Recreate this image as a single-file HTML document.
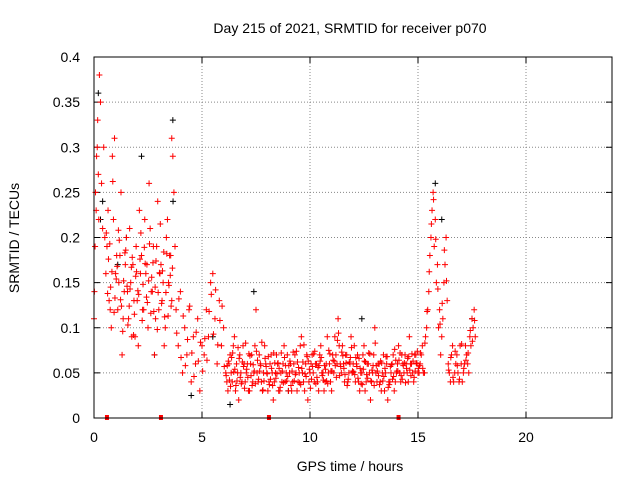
<!DOCTYPE html>
<html><head><meta charset="utf-8"><style>
body{margin:0;background:#fff;}
svg text{font-family:"Liberation Sans",sans-serif;font-size:14px;fill:#000;}
</style></head><body>
<svg id="chart" width="640" height="480">
<text x="350" y="33" text-anchor="middle">Day 215 of 2021, SRMTID for receiver p070</text>
<text x="350" y="471" text-anchor="middle">GPS time / hours</text>
<text transform="translate(19,238) rotate(-90)" text-anchor="middle">SRMTID / TECUs</text>
<g id="grid"></g><g id="ticks"></g><g id="black"></g><g id="red"></g>
<rect x="94" y="57" width="518" height="361" fill="none" stroke="#000" stroke-width="1"/>
</svg>
<script>
const xTicks=[0,5,10,15,20];
const yTicks=[0,0.05,0.1,0.15,0.2,0.25,0.3,0.35,0.4];
const yTickLabels=["0","0.05","0.1","0.15","0.2","0.25","0.3","0.35","0.4"];
const segStart=[0.0,0.02,0.55,0.6,3.6,3.8,5.1,6.1,6.15,15.1,15.15,16.4,16.45, 0.57,0.63,3.83,5.13,6.12,6.17,15.12,16.42];
const segStep=[0.05,0.05,0.1,0.1,0.05,0.1,0.1,0.1,0.1,0.1,0.1,0.1,0.1, 0.1,0.1,0.1,0.1,0.1,0.1,0.1,0.1];
const segVals=[
[0.11,0.19,0.23,0.30,0.27,0.38,0.35,0.26,0.21,0.30,0.20],
[0.14,0.25,0.29,0.33,0.22],
[0.16,0.23,0.12,0.29,0.31,0.18,0.15,0.25,0.11,0.17,0.14,0.21,0.09,0.13,0.19,0.08,0.16,0.12,0.22,0.17,0.26,0.14,0.19,0.11,0.24,0.16,0.13,0.08,0.20,0.15,0.18],
[0.19,0.13,0.10,0.22,0.16,0.12,0.18,0.07,0.14,0.20,0.11,0.15,0.17,0.09,0.13,0.23,0.18,0.12,0.16,0.10,0.21,0.14,0.07,0.19,0.12,0.17,0.15,0.10,0.22,0.18,0.13],
[0.31,0.29,0.25,0.19],
[0.12,0.08,0.14,0.05,0.10,0.07,0.12,0.04,0.09,0.06,0.11,0.03,0.08],
[0.07,0.12,0.09,0.15,0.16,0.11,0.06,0.13,0.08,0.10],
[0.05,0.03,0.07,0.04,0.09,0.06,0.02,0.05,0.08,0.04,0.06,0.03,0.07,0.05,0.12,0.04,0.06,0.03,0.08,0.05,0.04,0.07,0.02,0.05,0.06,0.03,0.04,0.08,0.05,0.03,0.06,0.04,0.07,0.03,0.05,0.09,0.04,0.06,0.02,0.05,0.07,0.04,0.06,0.03,0.08,0.05,0.04,0.09,0.06,0.03,0.05,0.07,0.11,0.06,0.08,0.04,0.07,0.05,0.09,0.06,0.04,0.07,0.03,0.05,0.08,0.04,0.06,0.02,0.05,0.10,0.04,0.06,0.03,0.07,0.05,0.02,0.04,0.06,0.03,0.05,0.08,0.04,0.06,0.07,0.05,0.09,0.06,0.04,0.07,0.05],
[0.04,0.06,0.05,0.08,0.03,0.05,0.07,0.04,0.06,0.05,0.03,0.06,0.04,0.08,0.05,0.07,0.04,0.05,0.06,0.03,0.06,0.05,0.04,0.07,0.03,0.05,0.06,0.04,0.07,0.05,0.03,0.06,0.05,0.04,0.08,0.05,0.03,0.07,0.04,0.06,0.05,0.06,0.04,0.07,0.05,0.03,0.06,0.05,0.04,0.07,0.09,0.06,0.08,0.05,0.06,0.07,0.04,0.06,0.05,0.08,0.06,0.04,0.05,0.07,0.03,0.06,0.05,0.04,0.07,0.05,0.06,0.04,0.05,0.03,0.06,0.04,0.05,0.07,0.04,0.06,0.05,0.07,0.05,0.06,0.04,0.06,0.05,0.07,0.06,0.05],
[0.06,0.08,0.05,0.10,0.14,0.20,0.25,0.22,0.17,0.12,0.09,0.15,0.20],
[0.07,0.05,0.09,0.12,0.18,0.23,0.19,0.15,0.10,0.07,0.11,0.17,0.13],
[0.06,0.04,0.08,0.05,0.07,0.04,0.06,0.05,0.08,0.06,0.09,0.11,0.12],
[0.05,0.07,0.04,0.06,0.05,0.08,0.04,0.06,0.07,0.05,0.08,0.10,0.09],
[0.205,0.176,0.145,0.262,0.133,0.168,0.197,0.124,0.152,0.186,0.103,0.143,0.178,0.115,0.162,0.137,0.205,0.148,0.171,0.128,0.193,0.156,0.118,0.174,0.139,0.215,0.163,0.112,0.182,0.147,0.124],
[0.138,0.193,0.162,0.117,0.154,0.208,0.131,0.096,0.183,0.146,0.124,0.167,0.092,0.157,0.141,0.176,0.108,0.189,0.134,0.152,0.116,0.172,0.145,0.098,0.161,0.127,0.184,0.139,0.113,0.158,0.166],
[0.094,0.132,0.067,0.113,0.058,0.087,0.124,0.072,0.046,0.095,0.063,0.084,0.052],
[0.088,0.064,0.118,0.137,0.093,0.142,0.081,0.108,0.124,0.057],
[0.047,0.063,0.035,0.072,0.054,0.041,0.066,0.038,0.057,0.083,0.045,0.069,0.036,0.052,0.074,0.043,0.058,0.031,0.066,0.049,0.037,0.055,0.072,0.044,0.061,0.034,0.052,0.067,0.041,0.058,0.036,0.073,0.048,0.062,0.039,0.055,0.081,0.046,0.063,0.033,0.057,0.074,0.045,0.058,0.067,0.042,0.054,0.038,0.071,0.052,0.063,0.045,0.094,0.057,0.069,0.048,0.036,0.062,0.078,0.051,0.067,0.044,0.055,0.037,0.063,0.048,0.072,0.041,0.058,0.083,0.052,0.037,0.061,0.046,0.068,0.034,0.057,0.043,0.076,0.052,0.064,0.047,0.058,0.039,0.066,0.053,0.071,0.045,0.061,0.055],
[0.058,0.042,0.067,0.051,0.036,0.078,0.045,0.062,0.033,0.054,0.071,0.047,0.059,0.038,0.064,0.052,0.084,0.041,0.057,0.068,0.043,0.036,0.061,0.049,0.055,0.072,0.039,0.058,0.046,0.063,0.052,0.041,0.074,0.056,0.037,0.062,0.049,0.068,0.054,0.043,0.071,0.038,0.056,0.063,0.047,0.058,0.041,0.075,0.052,0.064,0.058,0.086,0.047,0.073,0.055,0.061,0.043,0.067,0.052,0.048,0.057,0.066,0.038,0.054,0.062,0.044,0.071,0.053,0.036,0.058,0.047,0.063,0.041,0.055,0.068,0.037,0.059,0.046,0.064,0.052,0.072,0.043,0.061,0.055,0.068,0.047,0.063,0.052,0.074,0.058],
[0.072,0.055,0.083,0.118,0.162,0.215,0.242,0.198,0.143,0.104,0.127,0.186,0.152],
[0.053,0.067,0.045,0.074,0.058,0.043,0.082,0.055,0.064,0.072,0.097,0.085,0.108]
];
const blackHours=[0.2,0.3,1.5,2.2,2.8,3.65,3.66,4.5,6.3,7.4,9.0,12.4,15.8,16.1,17.5,0.4,1.1,5.5];
const blackVals=[0.36,0.22,0.20,0.29,0.07,0.33,0.24,0.025,0.015,0.14,0.03,0.11,0.26,0.22,0.11,0.24,0.17,0.09];
const markerHours=[0.6,3.1,8.1,14.1];
const NS="http://www.w3.org/2000/svg";
function X(h){return 94+h*21.6;}
function Y(v){return 418-v*902.5;}
function mk(tag,attrs,parent){const e=document.createElementNS(NS,tag);for(const k in attrs)e.setAttribute(k,attrs[k]);parent.appendChild(e);return e;}
const grid=document.getElementById('grid'),ticks=document.getElementById('ticks');
xTicks.forEach(t=>{
 if(t>0){const g=mk('line',{x1:X(t),x2:X(t),y1:57,y2:418,stroke:'#888','stroke-dasharray':'1,2'},grid);
 
 }
 const tx=mk('text',{x:X(t),y:442,'text-anchor':'middle'},ticks);tx.textContent=t;
 
 
 mk('line',{x1:X(t),x2:X(t),y1:418,y2:412,stroke:'#000'},ticks);
 mk('line',{x1:X(t),x2:X(t),y1:57,y2:63,stroke:'#000'},ticks);
});
yTicks.forEach((t,i)=>{
 if(t>0&&t<0.4){const g=mk('line',{x1:94,x2:612,y1:Y(t),y2:Y(t),stroke:'#888','stroke-dasharray':'1,2'},grid);
 
 }
 const tx=mk('text',{x:80,y:Y(t)+5,'text-anchor':'end'},ticks);tx.textContent=yTickLabels[i];
 
 
 mk('line',{x1:94,x2:100,y1:Y(t),y2:Y(t),stroke:'#000'},ticks);
 mk('line',{x1:612,x2:606,y1:Y(t),y2:Y(t),stroke:'#000'},ticks);
});
function plus(h,v,col,parent,name){
 const x=X(h),y=Y(v);
 const p=mk('path',{d:`M${x-3},${y}h6M${x},${y-3}v6`,stroke:col,'stroke-width':1,fill:'none'},parent);
 
 
}
const blk=document.getElementById('black'),red=document.getElementById('red');
blackHours.forEach((h,i)=>plus(h,blackVals[i],'#000',blk,'black-point'));
segVals.forEach((vals,s)=>vals.forEach((v,i)=>plus(segStart[s]+i*segStep[s],v,'#f00',red,'red-point')));
markerHours.forEach(h=>{
 const r=mk('rect',{x:X(h)-2,y:415,width:4,height:5,fill:'#f00'},red);
 
 
});
</script>
</body></html>
